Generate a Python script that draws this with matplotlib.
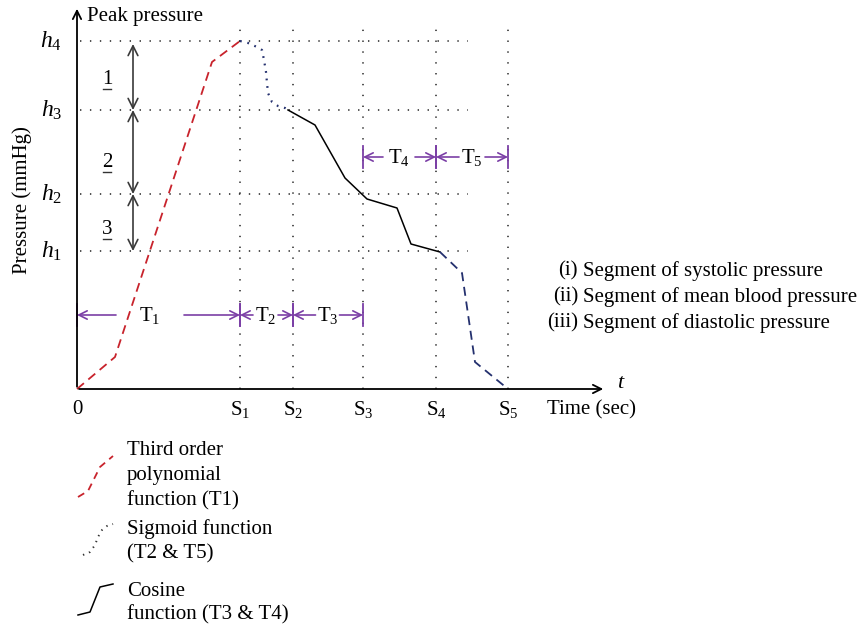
import numpy as np
import matplotlib
matplotlib.use("Agg")
import matplotlib.pyplot as plt

plt.rcParams['font.family'] = ['Liberation Serif', 'DejaVu Serif']
plt.rcParams['mathtext.fontset'] = 'custom'
plt.rcParams['mathtext.rm'] = 'Liberation Serif'
plt.rcParams['mathtext.it'] = 'Liberation Serif:italic'

# time marks S1..S5 and pressure levels h1..h4 (arbitrary units)
s_marks = [16.3, 21.6, 28.6, 35.9, 43.1]
s_labels = [r'S$_1$', r'S$_2$', r'S$_3$', r'S$_4$', r'S$_5$']
h_levels = [13.8, 19.5, 27.9, 34.8]
h_labels = [r'$h_1$', r'$h_2$', r'$h_3$', r'$h_4$']

# pressure waveform pieces
poly_t = [0.0, 3.8, 13.5, 16.3]
poly_p = [0.0, 3.2, 32.7, 34.8]
sig1_t = [16.3, 17.1, 18.0, 18.5, 18.7, 18.9, 19.0, 19.1, 19.5, 20.1, 20.8, 21.1]
sig1_p = [34.8, 34.6, 34.2, 33.9, 32.9, 31.7, 30.6, 29.6, 28.7, 28.3, 28.1, 27.9]
cos_t = [21.1, 23.8, 26.8, 29.0, 32.0, 33.4, 36.3]
cos_p = [27.9, 26.4, 21.1, 19.0, 18.1, 14.5, 13.7]
sig2_t = [36.3, 38.5, 39.8, 43.1]
sig2_p = [13.7, 11.6, 2.7, 0.0]

# interval labels T1..T5: (start, end, text centre, text half width, row level)
intervals = [
    (0.0, 16.3, 7.3, 3.4, 7.4, r'T$_1$'),
    (16.3, 21.6, 18.85, 1.25, 7.4, r'T$_2$'),
    (21.6, 28.6, 25.05, 1.2, 7.4, r'T$_3$'),
    (28.6, 35.9, 32.2, 1.6, 23.2, r'T$_4$'),
    (35.9, 43.1, 39.5, 1.3, 23.2, r'T$_5$'),
]

# numbered segments between pressure levels
seg_names = ['1', '2', '3']
seg_top = [34.5, 27.9, 19.5]
seg_bottom = [27.9, 19.5, 13.8]
seg_text_y = [30.9, 22.6, 15.9]

seg_roman = ['(i)', '(ii)', '(iii)']
seg_desc = ['Segment of systolic pressure', 'Segment of mean blood pressure',
            'Segment of diastolic pressure']

# legend samples
leg_poly_t = [0.1, 1.1, 2.3, 3.6]
leg_poly_p = [-10.8, -10.2, -7.8, -6.7]
leg_sig_t = [0.6, 1.3, 1.8, 2.1, 2.5, 3.0, 3.6]
leg_sig_p = [-16.6, -16.3, -15.6, -14.8, -14.1, -13.7, -13.5]
leg_cos_t = [0.1, 1.3, 2.3, 3.6]
leg_cos_p = [-22.6, -22.3, -19.8, -19.5]

red = '#c8232c'
navy = '#24306e'
purple = '#7b3fa6'
fs = 15

fig = plt.figure(figsize=(8.63, 6.33), dpi=100)
ax = fig.add_axes([0, 0, 1, 1])
ax.set_xlim(-7.7, 78.6)
ax.set_ylim(-24.4, 38.9)
ax.axis('off')

# dotted guide grid
for h in h_levels:
    ax.plot([0.3, 39.1], [h, h], color='#222222', lw=1.1, linestyle=(0, (0.9, 5.6)))
for s in s_marks:
    ax.plot([s, s], [0, 36.2], color='#222222', lw=1.1, linestyle=(0, (0.9, 6.2)))

# axes with arrows
ax.annotate('', xy=(0, 38.3), xytext=(0, -0.05),
            arrowprops=dict(arrowstyle='->,head_length=0.6,head_width=0.3', lw=1.3, color='black'))
ax.annotate('', xy=(52.9, 0), xytext=(-0.07, 0),
            arrowprops=dict(arrowstyle='->,head_length=0.6,head_width=0.3', lw=1.3, color='black'))

# waveform
ax.plot(poly_t, poly_p, color=red, lw=1.3, linestyle=(0, (5, 3.2)))
ax.plot(sig1_t, sig1_p, color=navy, lw=1.6, linestyle=(0, (0.8, 2.6)))
ax.plot(cos_t, cos_p, color='black', lw=1.1)
ax.plot(sig2_t, sig2_p, color=navy, lw=1.3, linestyle=(0, (5, 3.2)))

# labels on axes
for h, lab in zip(h_levels, h_labels):
    ax.text(-1.5, h, lab, ha='right', va='center', fontsize=fs + 2)
for s, lab in zip(s_marks, s_labels):
    ax.text(s, -2.1, lab, ha='center', va='center', fontsize=fs)
ax.text(0, -2.1, '0', ha='center', va='center', fontsize=fs)
ax.text(47.0, -2.1, 'Time (sec)', ha='left', va='center', fontsize=fs)
ax.text(54.4, 0.5, r'$t$', ha='center', va='center', fontsize=fs + 1)
ax.text(1.0, 37.2, 'Peak pressure', ha='left', va='center', fontsize=fs)
ax.text(-5.5, 18.9, 'Pressure (mmHg)', ha='center', va='center', rotation=90, fontsize=fs)

# double arrows for segments 1-3
for top, bot, name, ty in zip(seg_top, seg_bottom, seg_names, seg_text_y):
    ax.annotate('', xy=(5.6, top), xytext=(5.6, bot),
                arrowprops=dict(arrowstyle='<->,head_length=0.7,head_width=0.35',
                                lw=1.2, color='#3a3a3a', shrinkA=0, shrinkB=0))
    ax.text(3.0, ty, name, ha='center', va='center', fontsize=fs)
    ax.plot([2.6, 3.4], [ty - 0.95, ty - 0.95], color='#333333', lw=1)

# interval arrows T1..T5
for start, end, mid, half, lvl, lab in intervals:
    ax.text(mid, lvl, lab, ha='center', va='center', fontsize=fs)
    arrow = dict(arrowstyle='->,head_length=0.6,head_width=0.3', lw=1.2, color=purple,
                 shrinkA=0, shrinkB=0)
    ax.annotate('', xy=(start, lvl), xytext=(mid - half, lvl), arrowprops=arrow)
    ax.annotate('', xy=(end, lvl), xytext=(mid + half, lvl), arrowprops=arrow)
    ax.plot([start, start], [lvl - 1.1, lvl + 1.1], color=purple, lw=1.3)
    ax.plot([end, end], [lvl - 1.1, lvl + 1.1], color=purple, lw=1.3)

# segment descriptions on the right
for i, (r, d) in enumerate(zip(seg_roman, seg_desc)):
    y = 11.8 - 2.6 * i
    ax.text(50.1, y, r, ha='right', va='center', fontsize=fs)
    ax.text(50.6, y, d, ha='left', va='center', fontsize=fs)

# legend at the bottom
ax.plot(leg_poly_t, leg_poly_p, color=red, lw=1.3, linestyle=(0, (4, 3)))
ax.plot(leg_sig_t, leg_sig_p, color='#333333', lw=1.4, linestyle=(0, (0.7, 2.6)))
ax.plot(leg_cos_t, leg_cos_p, color='black', lw=1.1)
leg_lines = [('Third order', -6.6), ('polynomial', -9.1), ('function (T1)', -11.6),
             ('Sigmoid function', -14.5), ('(T2 & T5)', -16.9),
             ('Cosine', -20.7), ('function (T3 & T4)', -23.0)]
for txt, y in leg_lines:
    ax.text(5.0, y, txt, ha='left', va='baseline', fontsize=fs)

fig.savefig('out.png', dpi=100)
